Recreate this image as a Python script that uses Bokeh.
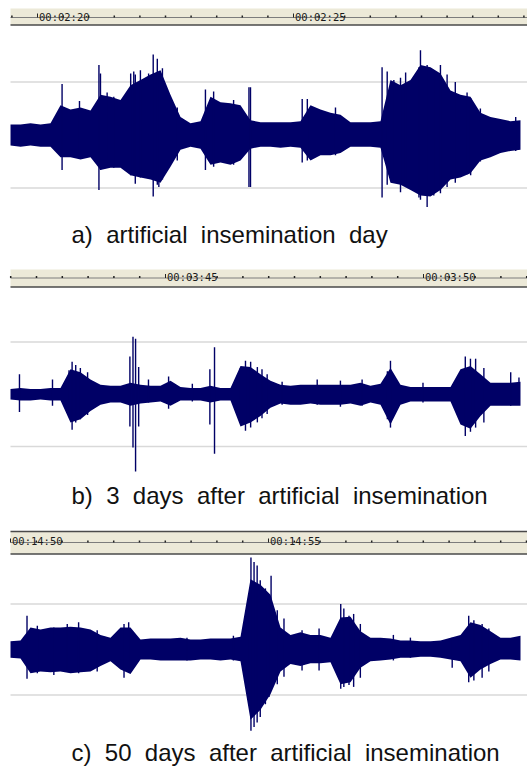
import numpy as np
from bokeh.plotting import figure
from bokeh.models import Range1d
from bokeh.core.properties import value
from bokeh.embed import file_html
from bokeh.resources import INLINE

# ---------------- data (amplitudes in % of full scale, times in seconds) ----------------
captions = [
    "a)\u00a0 artificial\u00a0 insemination\u00a0 day",
    "b)\u00a0 3\u00a0 days\u00a0 after\u00a0 artificial\u00a0 insemination",
    "c)\u00a0 50\u00a0 days\u00a0 after\u00a0 artificial\u00a0 insemination",
]

# panel a : 00:02:20 - 00:02:30
a_tick_times = [140, 145]
a_tick_labels = ["00:02:20", "00:02:25"]
a_t0 = 139.473          # time of first envelope sample
a_dt = 0.1953           # envelope sampling interval
a_upper = [10, 10, 11, 10, 11, 28, 24, 26, 23, 38, 36, 33, 47, 52, 57, 61, 38, 17, 11, 13,
           36, 31, 30, 28, 14, 12, 12, 12, 12, 13, 28, 24, 21, 19, 12, 12, 12, 13, 52, 47,
           52, 66, 64, 58, 42, 38, 36, 21, 17, 15, 13, 14]
a_lower = [10, 11, 10, 11, 11, 21, 21, 23, 21, 33, 31, 31, 38, 40, 42, 45, 30, 14, 11, 13,
           28, 26, 28, 24, 13, 11, 11, 12, 11, 12, 24, 19, 19, 17, 11, 11, 11, 12, 45, 47,
           52, 57, 58, 52, 42, 40, 36, 24, 21, 17, 15, 14]
a_spike_t = [140.48, 140.82, 141.20, 141.23, 141.36, 141.49, 141.82, 141.88, 141.91, 142.01,
             142.17, 142.26, 142.34, 142.37, 142.44, 142.73, 143.28, 143.44, 143.83, 144.13,
             144.16, 145.17, 145.27, 145.82, 146.73, 146.83, 146.96, 147.09, 147.19, 147.45,
             147.48, 147.61, 147.74, 147.87, 148.00, 148.16, 148.39, 148.46, 148.65, 149.34]
a_spike_top = [48, 32, 66, 58, 40, 36, 58, 60, 57, 61, 58, 76, 72, 57, 63, 26, 43, 41, 33, 45,
               45, 34, 34, 26, 64, 60, 52, 54, 59, 64, 80, 66, 61, 66, 57, 50, 40, 35, 25, 17]
a_spike_bottom = [33, 21, 52, 33, 31, 31, 38, 38, 46, 40, 40, 58, 47, 49, 42, 24, 33, 30, 28,
                  49, 49, 26, 24, 19, 59, 47, 42, 54, 47, 59, 61, 68, 57, 55, 49, 45, 37, 38,
                  25, 15]

# panel b : 00:03:42 - 00:03:52
b_tick_times = [225, 230]
b_tick_labels = ["00:03:45", "00:03:50"]
b_t0 = 221.996
b_dt = 0.1938
b_upper = [5, 6, 5, 5, 6, 6, 24, 21, 14, 9, 8, 8, 11, 9, 8, 8, 13, 7, 6, 6,
           8, 6, 6, 27, 26, 19, 13, 9, 8, 9, 9, 9, 9, 9, 9, 11, 8, 10, 25, 9,
           7, 7, 7, 7, 7, 24, 27, 19, 11, 11, 11, 12]
b_lower = [5, 6, 6, 5, 6, 6, 27, 24, 16, 10, 8, 8, 11, 9, 8, 7, 11, 6, 6, 6,
           8, 6, 6, 31, 27, 21, 13, 9, 10, 10, 9, 10, 10, 10, 9, 11, 8, 10, 29, 10,
           7, 7, 7, 7, 7, 29, 33, 21, 11, 11, 11, 11]
b_spike_t = [222.17, 222.81, 223.13, 223.19, 223.26, 223.35, 223.49, 224.31, 224.37, 224.42,
             224.48, 224.67, 225.06, 225.52, 225.86, 225.95, 226.45, 226.55, 226.65, 226.78,
             226.87, 226.97, 227.26, 227.94, 228.39, 228.81, 229.30, 229.36, 229.99, 230.81,
             230.91, 231.01, 231.17, 231.69, 231.85]
b_spike_top = [19, 14, 23, 31, 28, 25, 21, 36, 55, 53, 26, 14, 17, 10, 24, 45, 25, 32, 31, 26,
               24, 19, 12, 14, 13, 14, 22, 32, 11, 36, 34, 34, 25, 21, 16]
b_spike_bottom = [17, 11, 21, 34, 27, 24, 20, 31, 51, 74, 31, 8, 14, 7, 29, 57, 27, 35, 32, 27,
                  23, 19, 10, 10, 12, 11, 24, 32, 8, 40, 36, 32, 27, 11, 10]

# panel c : 00:14:50 - 00:15:00
c_tick_times = [890, 895]
c_tick_labels = ["00:14:50", "00:14:55"]
c_t0 = 890.0
c_dt = 0.1938
c_upper = [9, 10, 24, 22, 24, 24, 25, 24, 22, 16, 13, 24, 24, 11, 12, 12, 12, 13, 11, 11,
           12, 12, 12, 14, 77, 71, 60, 24, 16, 19, 16, 16, 13, 35, 36, 20, 13, 13, 12, 10,
           10, 9, 9, 10, 13, 16, 30, 27, 20, 13, 13, 15]
c_lower = [9, 10, 26, 24, 25, 24, 26, 25, 24, 18, 13, 22, 27, 11, 11, 12, 12, 12, 12, 11,
           11, 12, 11, 13, 77, 66, 49, 24, 16, 18, 15, 15, 14, 38, 36, 20, 13, 12, 11, 9,
           9, 8, 8, 9, 11, 13, 31, 22, 16, 11, 11, 12]
c_spike_t = [890.32, 890.52, 890.84, 891.10, 891.32, 891.68, 892.20, 892.29, 893.42, 894.32,
             894.59, 894.66, 894.72, 894.78, 894.84, 894.94, 895.01, 895.05, 895.17, 895.30,
             895.65, 895.98, 896.40, 896.46, 896.56, 896.65, 896.78, 897.42, 897.75, 898.56,
             898.88, 898.98, 899.14, 899.27]
c_spike_top = [37, 26, 24, 28, 30, 21, 28, 30, 13, 15, 39, 101, 96, 92, 76, 67, 54, 81, 43, 34,
               21, 23, 50, 45, 37, 39, 28, 16, 13, 13, 37, 32, 28, 23]
c_spike_bottom = [32, 26, 28, 24, 26, 24, 31, 20, 12, 12, 41, 89, 85, 80, 74, 60, 52, 41, 38,
                  30, 23, 23, 43, 41, 39, 41, 31, 12, 9, 20, 36, 34, 31, 24]

# ---------------- layout (page pixels) ----------------
W, H = 527, 767
X0, Y0 = 0, 0
NAVY = "#000066"
BEIGE = "#ECE9D8"

panels = [
    dict(key="a", t0=a_t0, dt=a_dt, up=a_upper, lo=a_lower, st=a_spike_t, stop=a_spike_top,
         sbot=a_spike_bottom, ticks=a_tick_times, labels=a_tick_labels, cap=captions[0],
         x_ref=37, pps=51.2, cy=134.5, ppp=53 / 50, r_top=8, r_base=17, r_bot=24.5,
         border_top=False, lab_y=16, cap_y=234),
    dict(key="b", t0=b_t0, dt=b_dt, up=b_upper, lo=b_lower, st=b_spike_t, stop=b_spike_top,
         sbot=b_spike_bottom, ticks=b_tick_times, labels=b_tick_labels, cap=captions[1],
         x_ref=165, pps=51.6, cy=393.7, ppp=52.2 / 50, r_top=269, r_base=277.5, r_bot=286.5,
         border_top=False, lab_y=276, cap_y=495),
    dict(key="c", t0=c_t0, dt=c_dt, up=c_upper, lo=c_lower, st=c_spike_t, stop=c_spike_top,
         sbot=c_spike_bottom, ticks=c_tick_times, labels=c_tick_labels, cap=captions[2],
         x_ref=10, pps=51.6, cy=649.0, ppp=45.6 / 50, r_top=531, r_base=542, r_bot=553.5,
         border_top=True, lab_y=540, cap_y=752),
]

p = figure(width=W, height=H, x_range=Range1d(X0, X0 + W), y_range=Range1d(Y0 + H, Y0),
           output_backend="svg", toolbar_location=None, min_border=0,
           x_axis_location=None, y_axis_location=None)
p.grid.visible = False
p.outline_line_color = None
p.background_fill_color = "white"
p.border_fill_color = "white"

xr_d, yr_d = {}, {}
for pn in panels:
    t_of = lambda x, pn=pn: pn["ticks"][0] + (x - pn["x_ref"]) / pn["pps"]
    a_of = lambda y, pn=pn: (pn["cy"] - y) / pn["ppp"]
    xr_d["t" + pn["key"]] = Range1d(t_of(X0), t_of(X0 + W))
    yr_d["y" + pn["key"]] = Range1d(a_of(Y0 + H), a_of(Y0))
p.extra_x_ranges = xr_d
p.extra_y_ranges = yr_d

for pn in panels:
    xk, yk = "t" + pn["key"], "y" + pn["key"]
    xr = xr_d[xk]
    # ---- ruler ----
    p.quad(left=[10], right=[X0 + W], top=[pn["r_top"]], bottom=[pn["r_bot"]],
           fill_color=BEIGE, line_color=None)
    if pn["border_top"]:
        p.segment(x0=[10], y0=[pn["r_top"]], x1=[X0 + W], y1=[pn["r_top"]],
                  line_color="#4a4a4a", line_width=1.5)
    p.segment(x0=[10], y0=[pn["r_base"]], x1=[X0 + W], y1=[pn["r_base"]],
              line_color="#7c7c7c", line_width=1)
    p.segment(x0=[10], y0=[pn["r_bot"]], x1=[X0 + W], y1=[pn["r_bot"]],
              line_color="#4a4a4a", line_width=1.5)
    minor = [t for t in np.arange(np.ceil(xr.start * 2) / 2, xr.end, 0.5)
             if all(abs(t - m) > 1e-6 for m in pn["ticks"])]
    p.segment(x0=minor, y0=[pn["r_base"]] * len(minor), x1=minor,
              y1=[pn["r_base"] - 2] * len(minor), x_range_name=xk,
              line_color="#222222", line_width=1.5)
    n = len(pn["ticks"])
    p.segment(x0=pn["ticks"], y0=[pn["r_base"]] * n, x1=pn["ticks"],
              y1=[pn["r_base"] - 4] * n, x_range_name=xk, line_color="#222222", line_width=1)
    p.text(x=pn["ticks"], y=[pn["lab_y"]] * n, text=pn["labels"], x_range_name=xk,
           x_offset=1.5, text_align="left", text_baseline="alphabetic",
           text_font=value("DejaVu Sans Mono"), text_font_size="10.5px", text_color="#1a1a1a")
    # ---- grid lines at +/-50 % ----
    t_first = pn["t0"]
    p.segment(x0=[t_first, t_first], y0=[50, -50], x1=[xr.end, xr.end], y1=[50, -50],
              x_range_name=xk, y_range_name=yk, line_color="#d9d9d9", line_width=1.5)
    # ---- waveform envelope ----
    times = [pn["t0"] + pn["dt"] * i for i in range(len(pn["up"]))]
    p.varea(x=times, y1=[-v for v in pn["lo"]], y2=pn["up"], x_range_name=xk,
            y_range_name=yk, fill_color=NAVY)
    p.segment(x0=pn["st"], y0=[-v for v in pn["sbot"]], x1=pn["st"], y1=pn["stop"],
              x_range_name=xk, y_range_name=yk, line_color=NAVY, line_width=1.4)
    # ---- caption ----
    p.text(x=[71], y=[pn["cap_y"]], text=[pn["cap"]], text_align="left",
           text_baseline="alphabetic", text_font=value("Liberation Sans"),
           text_font_size="24px", text_color="#111111")

open("out.html", "w").write(file_html(p, INLINE))
